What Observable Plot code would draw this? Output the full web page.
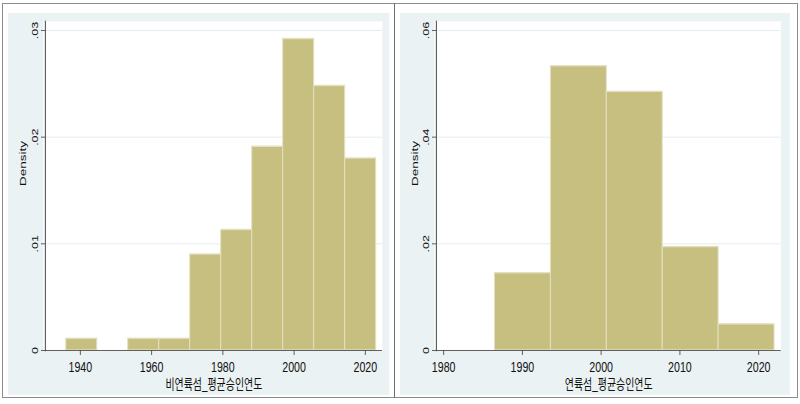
<!DOCTYPE html>
<html><head><meta charset="utf-8">
<script src="https://cdn.jsdelivr.net/npm/d3@7"></script>
<script src="https://cdn.jsdelivr.net/npm/@observablehq/plot@0.6"></script>
<style>
html,body{margin:0;padding:0;background:#fff;width:800px;height:404px;overflow:hidden;font-family:"Liberation Sans","Noto Sans CJK KR",sans-serif}
#frame{position:absolute;left:2px;top:3px;width:794px;height:393px;border:1px solid #8c8c8c}
#divider{position:absolute;left:394px;top:3px;width:1px;height:395px;background:#6e6e6e}
.panel{position:absolute;top:13px;width:600px}
.panel svg{transform:scaleX(0.71);transform-origin:0 0;display:block;max-width:none !important}
</style></head><body>
<div id="frame"></div><div id="divider"></div>
<div id="left" class="panel" style="left:8px"></div>
<div id="right" class="panel" style="left:400px"></div>
<script>
// ---- data ----
const leftEdges = [1936, 1944.7, 1953.4, 1962.1, 1970.8, 1979.5, 1988.2, 1996.9, 2005.6, 2014.3, 2023];
const leftDensity = [0.0011, 0, 0.0011, 0.0011, 0.0090, 0.0113, 0.0191, 0.0292, 0.0248, 0.0180];
const leftXTicks = [1940, 1960, 1980, 2000, 2020];
const leftYTicks = [0, 0.01, 0.02, 0.03];
const leftXLabel = "비연륙섬_평균승인연도";

const rightEdges = [1986.5, 1993.6, 2000.7, 2007.8, 2014.9, 2022.0];
const rightDensity = [0.0145, 0.0533, 0.0485, 0.0194, 0.0049];
const rightXTicks = [1980, 1990, 2000, 2010, 2020];
const rightYTicks = [0, 0.02, 0.04, 0.06];
const rightXLabel = "연륙섬_평균승인연도";

const yLabel = "Density";

// ---- layout ----
const S = 0.71; // horizontal squeeze of the original graphs
const H = 382;
const fmt = v => v === 0 ? "0" : d3.format(".2f")(v).replace(/^0/, "");

function histogram({edges, density, xTicks, yTicks, xLabel, w, axisLeft, frameRight, xPix}) {
  const bins = density.map((d, i) => ({x1: edges[i], x2: edges[i + 1], d})).filter(b => b.d > 0);
  return Plot.plot({
    width: w / S,
    height: H,
    marginLeft: axisLeft / S,
    marginRight: (w - frameRight) / S,
    marginTop: 8,
    marginBottom: 45,
    style: {background: "#eaf2f3", fontFamily: '"Liberation Sans","Noto Sans CJK KR",sans-serif', color: "#111", overflow: "visible", maxWidth: "none"},
    x: {domain: [xTicks[0], xTicks[xTicks.length - 1]], range: xPix.map(p => p / S)},
    y: {domain: [0, yTicks[yTicks.length - 1]], range: [337, 17]},
    marks: [
      Plot.frame({fill: "white", stroke: null, insetLeft: -2 / S}),
      Plot.gridY(yTicks.slice(1), {stroke: "#e0e9ec", strokeOpacity: 1}),
      Plot.rectY(bins, {x1: "x1", x2: "x2", y: "d", fill: "#c6bf80", stroke: "#e3e0c2", strokeWidth: 1.4}),
      Plot.ruleY([0], {stroke: "#444"}),
      Plot.frame({anchor: "left", stroke: "#444", strokeWidth: 1 / S}),
      Plot.axisY(yTicks, {tickFormat: fmt, tickRotate: -90, tickSize: 4 / S, tickPadding: 5, fontSize: 12.5, stroke: "#444", fill: "#111", label: null}),
      Plot.axisX(xTicks, {tickFormat: d => String(d), tickSize: 5, tickPadding: 6, fontSize: 15, stroke: "#444", fill: "#111", label: null}),
      Plot.text([yLabel], {frameAnchor: "left", rotate: -90, dx: -(axisLeft - 11) / S, lineAnchor: "top", fontSize: 13.5, fill: "#111"}),
      Plot.text([xLabel], {frameAnchor: "bottom", dy: 39, lineAnchor: "bottom", fontSize: 14, fill: "#111"})
    ]
  });
}

document.getElementById("left").append(histogram({
  edges: leftEdges, density: leftDensity, xTicks: leftXTicks, yTicks: leftYTicks, xLabel: leftXLabel,
  w: 381, axisLeft: 37, frameRight: 374, xPix: [72, 357]
}));
document.getElementById("right").append(histogram({
  edges: rightEdges, density: rightDensity, xTicks: rightXTicks, yTicks: rightYTicks, xLabel: rightXLabel,
  w: 390, axisLeft: 36, frameRight: 380.7, xPix: [43.3, 358.3]
}));
</script>
</body></html>
